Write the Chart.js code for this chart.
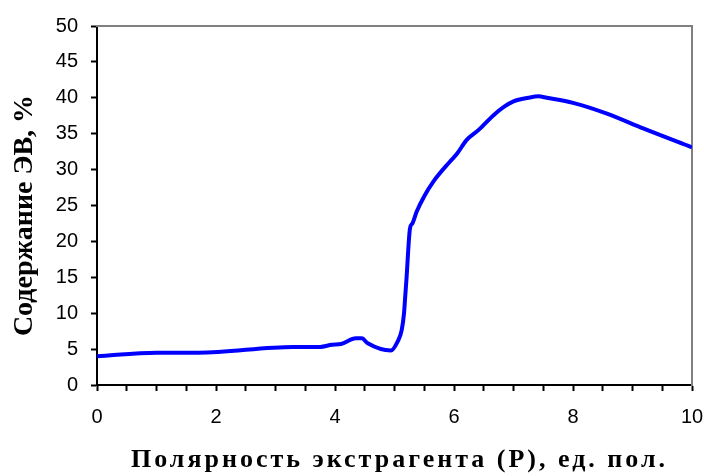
<!DOCTYPE html>
<html>
<head>
<meta charset="utf-8">
<script src="https://cdn.jsdelivr.net/npm/chart.js@4.4.0/dist/chart.umd.min.js"></script>
<style>
  html, body { margin: 0; padding: 0; background: #fff; }
  #wrap { width: 704px; height: 476px; }
</style>
</head>
<body>
<div id="wrap"><canvas id="chart" width="704" height="476"></canvas></div>
<script>
// полярность экстрагента (P) и содержание ЭВ, %
const polarity = [0, 1, 1.7, 3.3, 3.75, 3.95, 4.1, 4.35, 4.45, 4.55, 4.94, 5.05, 5.12, 5.16, 5.18, 5.2, 5.26, 5.3, 5.37, 5.5, 5.65, 5.93, 6.05, 6.21, 6.41, 6.66, 6.85, 7.0, 7.25, 7.42, 7.56, 8.0, 8.57, 9.19, 10];
const content = [4.0, 4.5, 4.5, 5.3, 5.3, 5.6, 5.7, 6.5, 6.5, 5.8, 4.8, 6.0, 7.6, 10.0, 12.3, 14.6, 21.8, 22.5, 24.1, 26.3, 28.3, 31.1, 32.2, 34.1, 35.5, 37.55, 38.8, 39.5, 40.0, 40.2, 40.0, 39.3, 37.8, 35.7, 33.1];

const xLabels = [0, 2, 4, 6, 8, 10];
const xTitle = 'Полярность экстрагента (Р), ед. пол.';
const yTitle = 'Содержание ЭВ, %';

const points = polarity.map((p, i) => ({ x: p, y: content[i] }));

const tickFont = { family: '"Liberation Sans", Arial, sans-serif', size: 20 };
const serif = '"Liberation Serif", "Times New Roman", serif';

// wraps the scale's title drawing: letter spacing and a small shift
function titleTweak(scaleId, spacing, dx, dy) {
  return {
    id: 'tweak_' + scaleId,
    beforeDraw(chart) {
      const s = chart.scales[scaleId];
      if (s._tweaked) return;
      const orig = s.drawTitle;
      s.drawTitle = function () {
        const ctx = this.ctx;
        ctx.save();
        ctx.letterSpacing = spacing + 'px';
        ctx.translate(dx, dy);
        orig.call(this);
        ctx.restore();
      };
      s._tweaked = true;
    }
  };
}

new Chart(document.getElementById('chart'), {
  type: 'line',
  data: {
    datasets: [{
      data: points,
      borderColor: '#0000ff',
      borderWidth: 4,
      pointRadius: 0,
      fill: false,
      cubicInterpolationMode: 'monotone'
    }]
  },
  options: {
    responsive: false,
    animation: false,
    layout: { padding: 0 },
    plugins: { legend: { display: false }, tooltip: { enabled: false } },
    scales: {
      x: {
        type: 'linear',
        position: 'bottom',
        min: 0,
        max: 10,
        afterFit: s => { s.height = 91; s.paddingLeft = 0; s.paddingRight = 0; },
        ticks: {
          stepSize: 0.5,
          autoSkip: false,
          maxRotation: 0,
          color: '#000',
          font: tickFont,
          padding: 14,
          callback: v => xLabels.includes(v) ? String(v) : ''
        },
        grid: { drawOnChartArea: false, color: '#000', tickLength: 6, tickWidth: 2 },
        border: { color: '#000', width: 2 },
        title: { display: true, text: xTitle, color: '#000', font: { family: serif, size: 26, weight: 'bold' }, padding: { top: 0, bottom: 1 } }
      },
      y: {
        type: 'linear',
        position: 'left',
        min: 0,
        max: 50,
        afterFit: s => { s.width = 97; s.paddingTop = 0; s.paddingBottom = 0; },
        ticks: { stepSize: 5, color: '#000', font: tickFont, padding: 13 },
        grid: { drawOnChartArea: false, color: '#000', tickLength: 6, tickWidth: 2 },
        border: { color: '#000', width: 2 },
        title: { display: true, text: yTitle, color: '#000', font: { family: serif, size: 28, weight: 'bold' }, padding: { top: 8, bottom: 0 } }
      },
      xTop: {
        type: 'linear',
        position: 'top',
        min: 0,
        max: 10,
        afterFit: s => { s.height = 26; },
        ticks: { display: false },
        grid: { display: false },
        border: { color: '#808080', width: 2 }
      },
      yRight: {
        type: 'linear',
        position: 'right',
        min: 0,
        max: 50,
        afterFit: s => { s.width = 12; },
        ticks: { display: false },
        grid: { display: false },
        border: { color: '#808080', width: 2 }
      }
    }
  },
  plugins: [titleTweak('x', 3, 5, 1), titleTweak('y', 0, 0, 10)]
});
</script>
</body>
</html>
